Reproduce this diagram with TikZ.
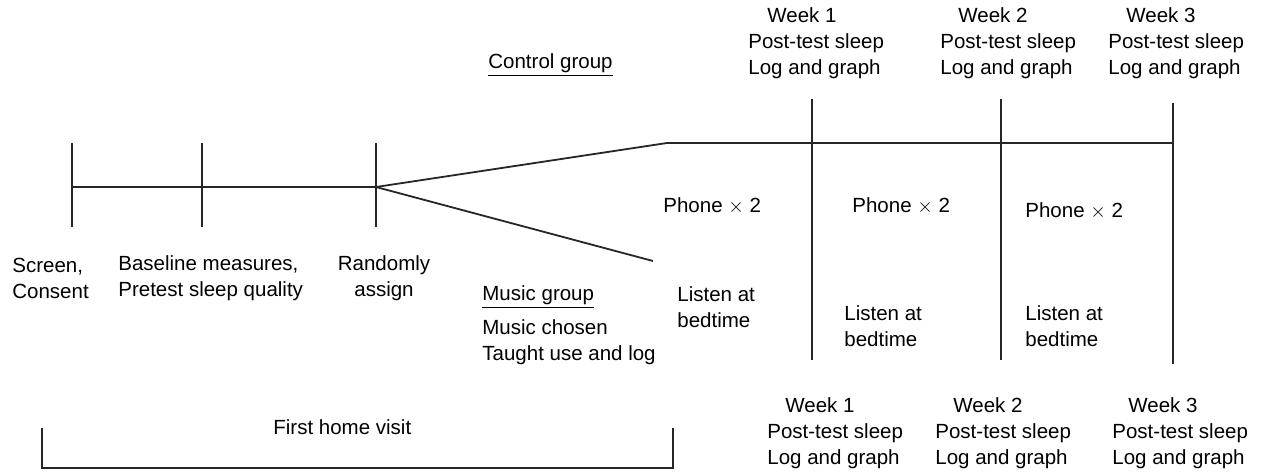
\documentclass[tikz,border=0pt]{standalone}
\usepackage{fontspec}
\setmainfont{Liberation Sans}
\begin{document}
\begin{tikzpicture}[x=0.5pt,y=-0.5pt,
  line/.style={line width=0.9pt, black!85},
  lbl/.style={inner sep=0pt, font=\fontsize{10.25pt}{13pt}\selectfont, align=left, anchor=west},
  clbl/.style={inner sep=0pt, font=\fontsize{10.25pt}{13pt}\selectfont, align=center, anchor=center}]
\useasboundingbox (0,0) rectangle (1266,472);
% coordinates
\coordinate (t0) at (72,187);
\coordinate (t1) at (202,187);
\coordinate (t2) at (376,187);
\coordinate (t0a) at (72,143);  \coordinate (t0b) at (72,227);
\coordinate (t1a) at (202,143); \coordinate (t1b) at (202,227);
\coordinate (t2a) at (376,143); \coordinate (t2b) at (376,227);
\coordinate (c0) at (667,143);
\coordinate (c3) at (1173,143);
\coordinate (m0) at (653,261);
\coordinate (w1a) at (812,99);  \coordinate (w1b) at (812,360);
\coordinate (w2a) at (1001,99); \coordinate (w2b) at (1001,360);
\coordinate (w3a) at (1173,103); \coordinate (w3b) at (1173,364);
\coordinate (b1) at (42,428); \coordinate (b2) at (42,468);
\coordinate (b3) at (673,468); \coordinate (b4) at (673,428);
% lines
\draw[line] (t0) -- (t1) -- (t2);
\draw[line] (t0a) -- (t0b);
\draw[line] (t1a) -- (t1b);
\draw[line] (t2a) -- (t2b);
\draw[line] (t2) -- (c0) -- (c3);
\draw[line] (t2) -- (m0);
\draw[line] (w1a) -- (w1b);
\draw[line] (w2a) -- (w2b);
\draw[line] (w3a) -- (w3b);
\draw[line] (b1) -- (b2) -- (b3) -- (b4);
% texts
\node[lbl] (screen) at (12,278.5) {Screen,\\Consent};
\node[lbl] (base) at (118,278.5) {Baseline measures,\\Pretest sleep quality};
\node[clbl] (rand) at (384,278.5) {Randomly\\assign};
\node[lbl] (ctrl) at (488,65) {\underline{Control group}};
\node[lbl] (music) at (482,297) {\underline{Music group}};
\node[lbl] (musicd) at (482,342.5) {Music chosen\\Taught use and log};
\node[lbl] (first) at (273,427) {First home visit};
\node[lbl] (tw1) at (748,43.5) {\hspace*{9.5pt}Week 1\\Post-test sleep\\Log and graph};
\node[lbl] (tw2) at (940,43.5) {\hspace*{9pt}Week 2\\Post-test sleep\\Log and graph};
\node[lbl] (tw3) at (1108,43.5) {\hspace*{9pt}Week 3\\Post-test sleep\\Log and graph};
\node[lbl] (bw1) at (767,433) {\hspace*{9pt}Week 1\\Post-test sleep\\Log and graph};
\node[lbl] (bw2) at (935,433) {\hspace*{9pt}Week 2\\Post-test sleep\\Log and graph};
\node[lbl] (bw3) at (1112,433) {\hspace*{8pt}Week 3\\Post-test sleep\\Log and graph};
\node[lbl] (ph1) at (663,206) {Phone $\times$ 2};
\node[lbl] (ph2) at (852,206) {Phone $\times$ 2};
\node[lbl] (ph3) at (1025,211) {Phone $\times$ 2};
\node[lbl] (ls1) at (677,307.5) {Listen at\\bedtime};
\node[lbl] (ls2) at (844,326) {Listen at\\bedtime};
\node[lbl] (ls3) at (1025,326) {Listen at\\bedtime};
\end{tikzpicture}
\end{document}
